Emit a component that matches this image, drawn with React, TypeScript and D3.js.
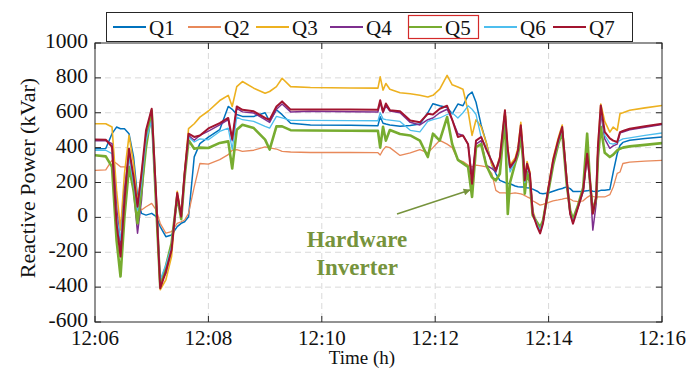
import React from 'react';
import * as d3 from 'd3';

// time axis in minutes after 12:00
const minutes = [
  6.00, 6.19, 6.30, 6.38, 6.45, 6.52, 6.60, 6.68, 6.75, 6.82,
  6.90, 7.00, 7.08, 7.15, 7.25, 7.35, 7.45, 7.52, 7.58, 7.65,
  7.75, 7.85, 8.00, 8.20, 8.35, 8.42, 8.50, 8.60, 8.80, 9.00,
  9.08, 9.20, 9.30, 9.45, 9.80, 10.50, 10.99, 11.03, 11.08, 11.13,
  11.20, 11.38, 11.56, 11.73, 11.87, 11.96, 12.08, 12.21, 12.30, 12.40,
  12.49, 12.58, 12.65, 12.72, 12.81, 12.90, 13.00, 13.07, 13.14, 13.23,
  13.28, 13.32, 13.41, 13.46, 13.51, 13.55, 13.58, 13.62, 13.67, 13.72,
  13.80, 13.85, 13.90, 13.99, 14.08, 14.17, 14.24, 14.27, 14.32, 14.38,
  14.43, 14.52, 14.61, 14.68, 14.73, 14.78, 14.84, 14.87, 14.92, 14.99,
  15.08, 15.14, 15.21, 15.26, 15.31, 15.43, 15.70, 16.00,
];

const q1 = [
  394, 395, 480, 518, 508, 508, 480, 347, 118, 23,
  13, 23, 4, -53, -111, -101, -53, -34, -25, 4,
  347, 423, 460, 503, 636, 620, 590, 579, 579, 600,
  550, 617, 589, 540, 530, 528, 526, 577, 540, 535,
  530, 522, 527, 535, 600, 652, 640, 630, 594, 650,
  640, 700, 719, 660, 530, 430, 300, 250, 212, 200,
  195, 193, 180, 176, 174, 174, 172, 170, 168, 162,
  150, 138, 136, 140, 150, 160, 165, 170, 174, 165,
  149, 149, 150, 152, 155, 150, 148, 150, 155, 155,
  160, 260, 365, 413, 430, 442, 452, 461,
];

const q2 = [
  270, 272, 328, 309, 290, 290, 280, 156, 80, 42,
  61, 80, 42, -34, -91, -82, -34, -25, -15, 23,
  175, 309, 305, 331, 360, 385, 389, 379, 385, 404,
  398, 392, 379, 375, 372, 372, 371, 358, 387, 406,
  400, 355, 370, 388, 370, 400, 442, 420, 400, 330,
  320, 300, 290, 300, 295, 289, 250, 155, 140, 140,
  138, 136, 140, 138, 135, 130, 125, 118, 110, 95,
  80, 70, 75, 85, 95, 100, 105, 108, 110, 105,
  95, 90, 95, 115, 125, 120, 115, 118, 117, 117,
  130, 174, 252, 260, 309, 317, 322, 327,
];

const q3 = [
  537, 537, 518, 156, -72, 251, 470, 308, 80, 251,
  461, 594, 99, -415, -358, -225, 150, 10, 260, 509,
  537, 575, 610, 670, 700, 636, 750, 779, 741, 712,
  722, 750, 798, 750, 745, 742, 741, 806, 730, 768,
  735, 715, 709, 700, 690, 700, 735, 814, 760, 748,
  735, 610, 470, 560, 520, 430, 300, 270, 350, 614,
  400, 300, 340, 400, 545, 380, 230, 320, 260, 40,
  -40, -70, -25, 165, 340, 455, 530, 410, 225, 35,
  -20, 70, 165, 380, 220, 40, 125, 410, 650, 550,
  489, 518, 499, 595, 600, 614, 628, 642,
];

const q4 = [
  440, 440, 423, 61, -168, 156, 375, 156, -91, 99,
  461, 585, 80, -380, -320, -180, 130, 0, 245, 470,
  442, 470, 495, 530, 560, 440, 625, 605, 598, 560,
  545, 620, 650, 605, 608, 606, 605, 660, 600, 640,
  610, 600, 545, 530, 560, 570, 600, 620, 560, 480,
  470, 420, 230, 420, 440, 300, 280, 260, 330, 590,
  380, 280, 320, 380, 510, 360, 210, 300, 245, 25,
  -50, -80, -30, 150, 320, 440, 510, 400, 210, 20,
  -30, 60, 150, 350, 200, -73, 80, 380, 600, 450,
  396, 410, 420, 485, 490, 502, 517, 532,
];

const q5 = [
  356, 350, 290, -130, -339, 4, 290, 156, -34, 156,
  404, 613, 60, -396, -282, -149, 120, -10, 230, 442,
  394, 400, 398, 427, 436, 280, 503, 531, 512, 446,
  389, 522, 522, 500, 498, 497, 496, 400, 520, 440,
  501, 478, 470, 440, 346, 480, 440, 575, 420, 330,
  310, 289, 117, 403, 420, 300, 230, 212, 250, 580,
  20, 200, 310, 360, 465, 330, 136, 260, 200, 10,
  -30, -57, -20, 140, 300, 420, 490, 380, 190, 40,
  -10, 70, 170, 480, 200, 30, 110, 340, 520, 370,
  346, 360, 384, 394, 400, 407, 416, 426,
];

const q6 = [
  385, 385, 366, 4, -130, 118, 347, 194, 42, 194,
  442, 556, 90, -358, -272, -168, 125, 5, 240, 461,
  432, 450, 445, 493, 512, 390, 575, 560, 550, 522,
  512, 579, 570, 556, 556, 555, 554, 600, 565, 560,
  558, 550, 499, 490, 550, 560, 570, 590, 600, 570,
  600, 640, 620, 590, 460, 400, 320, 270, 340, 600,
  360, 260, 320, 375, 500, 350, 200, 290, 240, 30,
  -45, -70, -30, 150, 320, 430, 505, 395, 205, 25,
  -25, 60, 150, 360, 210, 30, 115, 390, 620, 470,
  424, 420, 430, 442, 450, 456, 470, 484,
];

const q7 = [
  446, 445, 404, -34, -225, 99, 394, 232, 61, 251,
  499, 623, 110, -406, -311, -187, 140, 4, 251, 480,
  461, 470, 510, 541, 570, 450, 636, 617, 608, 570,
  560, 636, 665, 618, 619, 618, 617, 672, 606, 653,
  615, 608, 556, 545, 594, 590, 623, 640, 560, 461,
  470, 420, 193, 440, 461, 390, 320, 270, 340, 614,
  390, 288, 327, 384, 528, 365, 212, 308, 250, 21,
  -55, -92, -36, 155, 327, 442, 518, 403, 212, 21,
  -36, 59, 155, 365, 212, 21, 117, 403, 642, 490,
  453, 440, 432, 489, 495, 508, 522, 537,
];

const seriesNames = ['Q1', 'Q2', 'Q3', 'Q4', 'Q5', 'Q6', 'Q7'];
const seriesValues = [q1, q2, q3, q4, q5, q6, q7];
const seriesColors = ['#0072BD', '#E8895A', '#EDB120', '#7E2F8E', '#77AC30', '#4DBEEE', '#A2142F'];
const seriesWidths = [1.5, 1.3, 1.6, 1.5, 2.6, 1.3, 2.0];

const xTicks = [6, 8, 10, 12, 14, 16];
const xTickLabels = ['12:06', '12:08', '12:10', '12:12', '12:14', '12:16'];
const yTicks = [-600, -400, -200, 0, 200, 400, 600, 800, 1000];

const W = 694;
const H = 369;
const plot = { left: 95, right: 662, top: 43, bottom: 322 };
const font = '"Liberation Serif", "Times New Roman", serif';
const green = '#76933C';

// legend layout: left edge of each sample line
const legendX = [113, 188, 256, 330, 409, 484, 553];

const App = () => {
  const x = d3.scaleLinear().domain([6, 16]).range([plot.left, plot.right]);
  const y = d3.scaleLinear().domain([-600, 1000]).range([plot.bottom, plot.top]);

  const line = d3.line<number>()
    .x((_, i) => x(minutes[i]))
    .y(d => y(d));

  const tick = 6;

  return (
    <svg width={W} height={H} style={{ position: 'absolute', left: 0, top: 0, background: '#fff' }}
      fontFamily={font}>
      <defs>
        <clipPath id="plot-clip">
          <rect x={plot.left} y={plot.top} width={plot.right - plot.left} height={plot.bottom - plot.top} />
        </clipPath>
        <marker id="arrow" viewBox="0 0 10 10" refX="9" refY="5" markerWidth="9" markerHeight="7"
          markerUnits="userSpaceOnUse" orient="auto">
          <path d="M0,0 L10,5 L0,10 z" fill={green} />
        </marker>
      </defs>

      {/* grid */}
      <g stroke="#d9d9d9" strokeWidth={1} strokeDasharray="6,4">
        {xTicks.slice(1, -1).map(t => (
          <line key={'gx' + t} x1={x(t)} x2={x(t)} y1={plot.top} y2={plot.bottom} />
        ))}
        {yTicks.slice(1, -1).map(t => (
          <line key={'gy' + t} x1={plot.left} x2={plot.right} y1={y(t)} y2={y(t)} />
        ))}
      </g>

      {/* series */}
      <g clipPath="url(#plot-clip)" fill="none" strokeLinejoin="round">
        {seriesValues.map((vals, i) => (
          <path key={seriesNames[i]} d={line(vals) || ''} stroke={seriesColors[i]} strokeWidth={seriesWidths[i]} />
        ))}
      </g>

      {/* axes box + ticks */}
      <g stroke="#262626" strokeWidth={1}>
        <rect x={plot.left} y={plot.top} width={plot.right - plot.left} height={plot.bottom - plot.top} fill="none" />
        {xTicks.map(t => (
          <g key={'tx' + t}>
            <line x1={x(t)} x2={x(t)} y1={plot.bottom} y2={plot.bottom - tick} />
            <line x1={x(t)} x2={x(t)} y1={plot.top} y2={plot.top + tick} />
          </g>
        ))}
        {yTicks.map(t => (
          <g key={'ty' + t}>
            <line x1={plot.left} x2={plot.left + tick} y1={y(t)} y2={y(t)} />
            <line x1={plot.right} x2={plot.right - tick} y1={y(t)} y2={y(t)} />
          </g>
        ))}
      </g>

      {/* tick labels */}
      <g fill="#111">
        {yTicks.map(t => (
          <text key={'ly' + t} x={plot.left - 7} y={y(t) - 2} fontSize={21.5} textAnchor="end"
            dominantBaseline="central">{t}</text>
        ))}
        {xTicks.map((t, i) => (
          <text key={'lx' + t} x={x(t)} y={plot.bottom + 23} fontSize={21} textAnchor="middle">{xTickLabels[i]}</text>
        ))}
      </g>

      {/* axis titles */}
      <text x={362} y={364} textAnchor="middle" fontSize={19} fill="#111">Time (h)</text>
      <text transform="translate(27,178) rotate(-90)" textAnchor="middle" fontSize={22} fill="#111"
        dominantBaseline="central">Reactive Power (kVar)</text>

      {/* annotation */}
      <line x1={397} y1={214} x2={470} y2={190} stroke={green} strokeWidth={1.6} markerEnd="url(#arrow)" />
      <g fill={green} fontWeight="bold" fontSize={23} textAnchor="middle">
        <text x={357} y={247}>Hardware</text>
        <text x={357} y={275}>Inverter</text>
      </g>

      {/* legend */}
      <rect x={106.5} y={12.5} width={526} height={29} fill="#fff" stroke="#262626" strokeWidth={1} />
      {seriesNames.map((name, i) => (
        <g key={'lg' + name}>
          <line x1={legendX[i]} x2={legendX[i] + 33} y1={27} y2={27} stroke={seriesColors[i]} strokeWidth={2} />
          <text x={legendX[i] + 36} y={35} fontSize={21} fill="#111">{name}</text>
        </g>
      ))}
      <rect x={408.5} y={15.5} width={70} height={23} fill="none" stroke="#D42A2A" strokeWidth={1.2} />
    </svg>
  );
};

export default App;
